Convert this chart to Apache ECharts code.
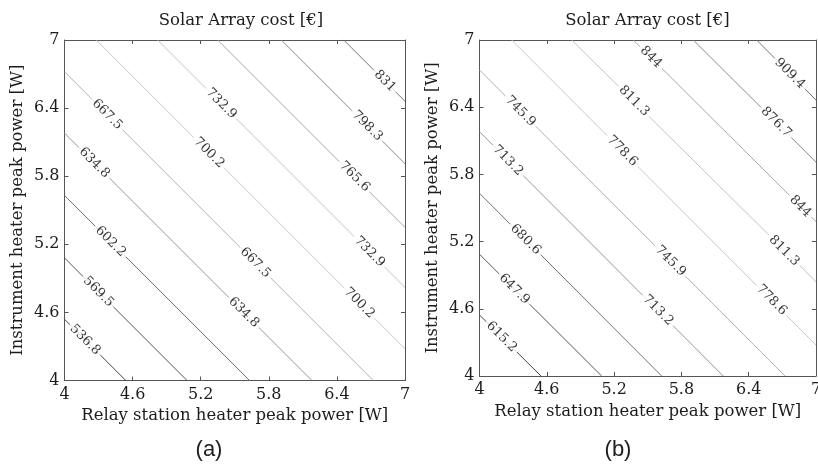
<!DOCTYPE html>
<html>
<head>
<meta charset="utf-8">
<script src="https://cdn.jsdelivr.net/npm/echarts@6/dist/echarts.min.js"></script>
<style>
  html, body { margin: 0; padding: 0; background: #ffffff; }
  #chart { width: 818px; height: 469px; }
</style>
</head>
<body>
<div id="chart"></div>
<script>
// Tick values shared by both axes of both panels (W)
const tickValues = [4, 4.6, 5.2, 5.8, 6.4, 7];

// Panel (a): iso-cost levels (EUR) and the end points of each line [x, y] in W
const levelsA = [536.8, 569.5, 602.2, 634.8, 667.5, 700.2, 732.9, 765.6, 798.3, 831];
const pathsA = [
  [[4, 4.54], [4.54, 4]],
  [[4, 5.08], [5.08, 4]],
  [[4, 5.63], [5.63, 4]],
  [[4, 6.18], [6.18, 4]],
  [[4, 6.72], [6.72, 4]],
  [[4.28, 7], [7, 4.28]],
  [[4.82, 7], [7, 4.82]],
  [[5.35, 7], [7, 5.35]],
  [[5.91, 7], [7, 5.91]],
  [[6.46, 7], [7, 6.46]]
];
// Inline label anchors: [level index, x, y]
const labelsA = [
  [0, 4.182, 4.358],
  [1, 4.298, 4.782],
  [2, 4.405, 5.225],
  [3, 4.262, 5.918], [3, 5.58, 4.60],
  [4, 4.376, 6.344], [4, 5.682, 5.038],
  [5, 5.274, 6.006], [5, 6.598, 4.683],
  [6, 5.381, 6.44], [6, 6.687, 5.134],
  [7, 6.555, 5.796],
  [8, 6.667, 6.243],
  [9, 6.823, 6.638]
];

// Panel (b)
const levelsB = [615.2, 647.9, 680.6, 713.2, 745.9, 778.6, 811.3, 844, 876.7, 909.4];
const pathsB = [
  [[4, 4.545], [4.548, 4]],
  [[4, 5.087], [5.089, 4]],
  [[4, 5.631], [5.624, 4]],
  [[4, 6.181], [6.173, 4]],
  [[4, 6.732], [6.724, 4]],
  [[4.287, 7], [7, 4.277]],
  [[4.822, 7], [7, 4.842]],
  [[5.371, 7], [7, 5.378]],
  [[5.906, 7], [7, 5.91]],
  [[6.471, 7], [7, 6.464]]
];
const labelsB = [
  [0, 4.197, 4.35],
  [1, 4.31, 4.777],
  [2, 4.41, 5.219],
  [3, 4.253, 5.924], [3, 5.592, 4.586],
  [4, 4.365, 6.364], [4, 5.703, 5.026],
  [5, 5.274, 6.009], [5, 6.605, 4.678],
  [6, 5.377, 6.455], [6, 6.715, 5.117],
  [7, 5.529, 6.846], [7, 6.86, 5.515],
  [8, 6.644, 6.266],
  [9, 6.767, 6.701]
];

const panelTitle = 'Solar Array cost [€]';
const xName = 'Relay station heater peak power [W]';
const yName = 'Instrument heater peak power [W]';
const captions = ['(a)', '(b)'];

// Grey shade of each contour, lowest level first
const shades = ['#444444', '#555555', '#747474', '#969696', '#b0b0b0',
                '#c8c8c8', '#c4c4c4', '#a8a8a8', '#8a8a8a', '#737373'];

const SERIF = '"DejaVu Serif", "Liberation Serif", serif';
const AXIS_COLOR = '#555555';
const TEXT_COLOR = '#1c1c1c';

const panels = [
  { levels: levelsA, paths: pathsA, labels: labelsA,
    grid: { left: 64.5, top: 40, width: 340.5, height: 340.5 },
    titleX: 241, captionX: 209 },
  { levels: levelsB, paths: pathsB, labels: labelsB,
    grid: { left: 479.5, top: 40, width: 336.5, height: 336 },
    titleX: 647.5, captionX: 618 }
];

function fmt(v) { return String(v); }

const grids = [], xAxes = [], yAxes = [], series = [], graphics = [];

panels.forEach(function (p, i) {
  grids.push(Object.assign({ containLabel: false, outerBoundsMode: 'none' }, p.grid));

  const tickStyle = { show: true, inside: true, length: 4,
    customValues: tickValues, lineStyle: { color: AXIS_COLOR, width: 1 } };
  const lineStyle = { show: true, onZero: false, lineStyle: { color: AXIS_COLOR, width: 1 } };
  const labelStyle = { show: true, customValues: tickValues, formatter: fmt,
    fontFamily: SERIF, fontSize: 16, color: TEXT_COLOR, hideOverlap: false };

  // bottom and top x axes
  xAxes.push({
    type: 'value', gridIndex: i, min: 4, max: 7, position: 'bottom',
    axisLine: lineStyle, axisTick: tickStyle, splitLine: { show: false },
    axisLabel: Object.assign({ margin: 6 }, labelStyle),
    name: xName, nameLocation: 'middle', nameGap: 22,
    nameTextStyle: { fontFamily: SERIF, fontSize: 16.5, color: TEXT_COLOR, verticalAlign: 'top' }
  });
  xAxes.push({
    type: 'value', gridIndex: i, min: 4, max: 7, position: 'top',
    axisLine: lineStyle, axisTick: tickStyle, splitLine: { show: false },
    axisLabel: { show: false }
  });
  // left and right y axes
  yAxes.push({
    type: 'value', gridIndex: i, min: 4, max: 7, position: 'left',
    axisLine: lineStyle, axisTick: tickStyle, splitLine: { show: false },
    axisLabel: Object.assign({ margin: 5 }, labelStyle),
    name: yName, nameLocation: 'middle', nameGap: 38,
    nameTextStyle: { fontFamily: SERIF, fontSize: 16.5, color: TEXT_COLOR }
  });
  yAxes.push({
    type: 'value', gridIndex: i, min: 4, max: 7, position: 'right',
    axisLine: lineStyle, axisTick: tickStyle, splitLine: { show: false },
    axisLabel: { show: false }
  });

  const xi = i * 2, yi = i * 2;

  // contour lines
  p.paths.forEach(function (path, k) {
    series.push({
      type: 'line', xAxisIndex: xi, yAxisIndex: yi,
      data: path, showSymbol: false, symbol: 'none', silent: true,
      lineStyle: { color: shades[k], width: 1 }, z: 2
    });
  });

  // inline contour labels on white boxes that break the lines
  series.push({
    type: 'scatter', xAxisIndex: xi, yAxisIndex: yi, symbolSize: 0, silent: true, z: 5,
    data: p.labels.map(function (l) { return [l[1], l[2], p.levels[l[0]]]; }),
    label: {
      show: true, position: 'inside', rotate: -45,
      formatter: function (d) { return fmt(d.data[2]); },
      fontFamily: SERIF, fontSize: 13, color: '#000000',
      backgroundColor: '#ffffff', padding: [0, 3]
    }
  });

  graphics.push({
    type: 'text', x: p.titleX, y: 21,
    style: { text: panelTitle, fontFamily: SERIF, fontSize: 16.5, fill: TEXT_COLOR,
             align: 'center', verticalAlign: 'middle' }
  });
  graphics.push({
    type: 'text', x: p.captionX, y: 450,
    style: { text: captions[i], fontFamily: '"Liberation Sans", Arial, sans-serif',
             fontSize: 22, fill: TEXT_COLOR, align: 'center', verticalAlign: 'middle' }
  });
});

const chart = echarts.init(document.getElementById('chart'), null, { renderer: 'canvas' });
chart.setOption({
  animation: false,
  backgroundColor: '#ffffff',
  grid: grids,
  xAxis: xAxes,
  yAxis: yAxes,
  series: series,
  graphic: graphics
});
</script>
</body>
</html>
